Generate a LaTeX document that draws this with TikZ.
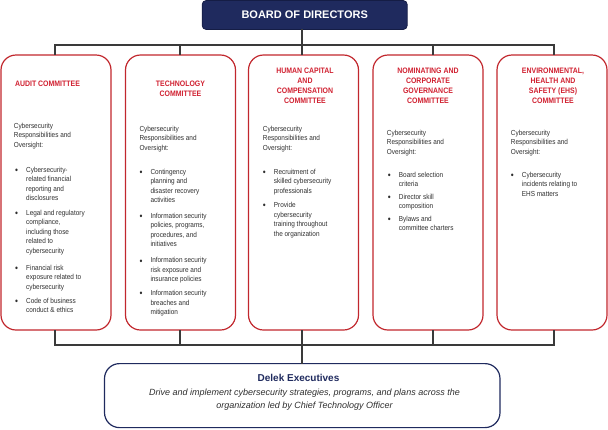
\documentclass[tikz,border=0pt]{standalone}
\usepackage{fontspec}
\setmainfont{Liberation Sans}
\newfontfamily\narf{Liberation Sans}[FakeStretch=0.88]
\definecolor{navy}{HTML}{1F2A5E}
\definecolor{navyedge}{HTML}{151D45}
\definecolor{boxred}{HTML}{C1272D}
\definecolor{ttlred}{HTML}{D02030}
\definecolor{bodyc}{HTML}{2E2E2E}
\definecolor{linec}{HTML}{3A3A3A}
\newcommand\hdrtxt{\begin{tabular}[t]{@{}l@{}}Cybersecurity\\Responsibilities and\\Oversight:\end{tabular}}
\newcommand\bulmark{\makebox[11pt][l]{\raisebox{-1.4pt}{\fontsize{9.5}{9.5}\selectfont\textbullet}}}
\newcommand\itm[1]{\begin{tabular}[t]{@{}l@{}l@{}}\bulmark&#1\end{tabular}}
\newcommand\ttl[1]{\begin{tabular}[t]{@{}c@{}}#1\end{tabular}}
\begin{document}
\begin{tikzpicture}[x=1pt,y=-1pt,
  conn/.style={draw=linec, line width=1.1pt, line cap=rect},
  cbox/.style={draw=boxred, line width=1.2pt, rounded corners=15pt, minimum width=110pt, minimum height=275pt, inner sep=0pt},
  ttlf/.style={font=\narf\bfseries\fontsize{7.9}{10}\selectfont, text=ttlred, inner sep=0pt, anchor=base},
  bodyf/.style={font=\narf\fontsize{7.3}{9.5}\selectfont, text=bodyc, inner sep=0pt, anchor=base west},
]
\useasboundingbox (0,0) rectangle (608,429);

% board
\node[fill=navy, draw=navyedge, line width=0.8pt, rounded corners=4pt, minimum width=205pt, minimum height=29pt, inner sep=0pt,
      text=white, font=\bfseries\fontsize{11}{13}\selectfont] (board) at (304.7,15) {BOARD OF DIRECTORS};

% committee boxes
\node[cbox] (audit) at (56,192.5) {};
\node[cbox] (tech) at (180.5,192.5) {};
\node[cbox] (hcc) at (303.5,192.5) {};
\node[cbox] (ncg) at (428,192.5) {};
\node[cbox] (ehs) at (552,192.5) {};

% executives box
\node[draw=navy, line width=1.2pt, rounded corners=15pt, minimum width=395.5pt, minimum height=64pt, inner sep=0pt] (delek) at (302.25,395.6) {};

% bus coordinates
\coordinate (ta) at (55,45);
\coordinate (tb) at (180,45);
\coordinate (tc) at (302,45);
\coordinate (td) at (433,45);
\coordinate (te) at (554,45);
\coordinate (ba) at (55,345);
\coordinate (bb) at (180,345);
\coordinate (bc) at (302,345);
\coordinate (bd) at (433,345);
\coordinate (be) at (554,345);

\draw[conn] (board.south -| tc) -- (tc);
\draw[conn] (ta) -- (te);
\foreach \c/\n in {ta/audit,tb/tech,tc/hcc,td/ncg,te/ehs}
  \draw[conn] (\c) -- (\c |- \n.north);
\draw[conn] (ba) -- (be);
\foreach \c/\n in {ba/audit,bb/tech,bc/hcc,bd/ncg,be/ehs}
  \draw[conn] (\n.south -| \c) -- (\c);
\draw[conn] (bc) -- (bc |- delek.north);

% titles
\node[ttlf] (t1) at (47.5,86.8) {\ttl{AUDIT COMMITTEE}};
\node[ttlf] (t2) at (180.5,86.8) {\ttl{TECHNOLOGY\\COMMITTEE}};
\node[ttlf] (t3) at (305,73.8) {\ttl{HUMAN CAPITAL\\AND\\COMPENSATION\\COMMITTEE}};
\node[ttlf] (t4) at (428,73.8) {\ttl{NOMINATING AND\\CORPORATE\\GOVERNANCE\\COMMITTEE}};
\node[ttlf] (t5) at (553,73.8) {\ttl{ENVIRONMENTAL,\\HEALTH AND\\SAFETY (EHS)\\COMMITTEE}};

% audit body
\node[bodyf] (h1) at (13.7,128.3) {\hdrtxt};
\node[bodyf] (a1) at (15,172.3) {\itm{Cybersecurity-\\&related financial\\&reporting and\\&disclosures}};
\node[bodyf] (a2) at (15,215.3) {\itm{Legal and regulatory\\&compliance,\\&including those\\&related to\\&cybersecurity}};
\node[bodyf] (a3) at (15,270.3) {\itm{Financial risk\\&exposure related to\\&cybersecurity}};
\node[bodyf] (a4) at (15,303.3) {\itm{Code of business\\&conduct \& ethics}};

% technology body
\node[bodyf] (h2) at (139.3,131.3) {\hdrtxt};
\node[bodyf] (b1) at (139.3,174.3) {\itm{Contingency\\&planning and\\&disaster recovery\\&activities}};
\node[bodyf] (b2) at (139.3,218.3) {\itm{Information security\\&policies, programs,\\&procedures, and\\&initiatives}};
\node[bodyf] (b3) at (139.3,262.6) {\itm{Information security\\&risk exposure and\\&insurance policies}};
\node[bodyf] (b4) at (139.3,295.5) {\itm{Information security\\&breaches and\\&mitigation}};

% human capital body
\node[bodyf] (h3) at (262.7,131.3) {\hdrtxt};
\node[bodyf] (c1) at (262.7,174.3) {\itm{Recruitment of\\&skilled cybersecurity\\&professionals}};
\node[bodyf] (c2) at (262.7,207.5) {\itm{Provide\\&cybersecurity\\&training throughout\\&the organization}};

% nominating body
\node[bodyf] (h4) at (386.7,135.3) {\hdrtxt};
\node[bodyf] (d1) at (387.7,177.3) {\itm{Board selection\\&criteria}};
\node[bodyf] (d2) at (387.7,199.3) {\itm{Director skill\\&composition}};
\node[bodyf] (d3) at (387.7,221.3) {\itm{Bylaws and\\&committee charters}};

% EHS body
\node[bodyf] (h5) at (510.7,135.3) {\hdrtxt};
\node[bodyf] (e1) at (510.7,177.3) {\itm{Cybersecurity\\&incidents relating to\\&EHS matters}};

% executives text
\node[font=\bfseries\fontsize{10}{12}\selectfont, text=navy, anchor=base, inner sep=0pt] (dtitle) at (298.5,381.9) {Delek Executives};
\node[font=\itshape\fontsize{9}{13.3}\selectfont, text=bodyc, anchor=base, inner sep=0pt] (ddesc) at (304.5,395.1)
  {\begin{tabular}[t]{@{}c@{}}Drive and implement cybersecurity strategies, programs, and plans across the\\organization led by Chief Technology Officer\end{tabular}};
\end{tikzpicture}
\end{document}
